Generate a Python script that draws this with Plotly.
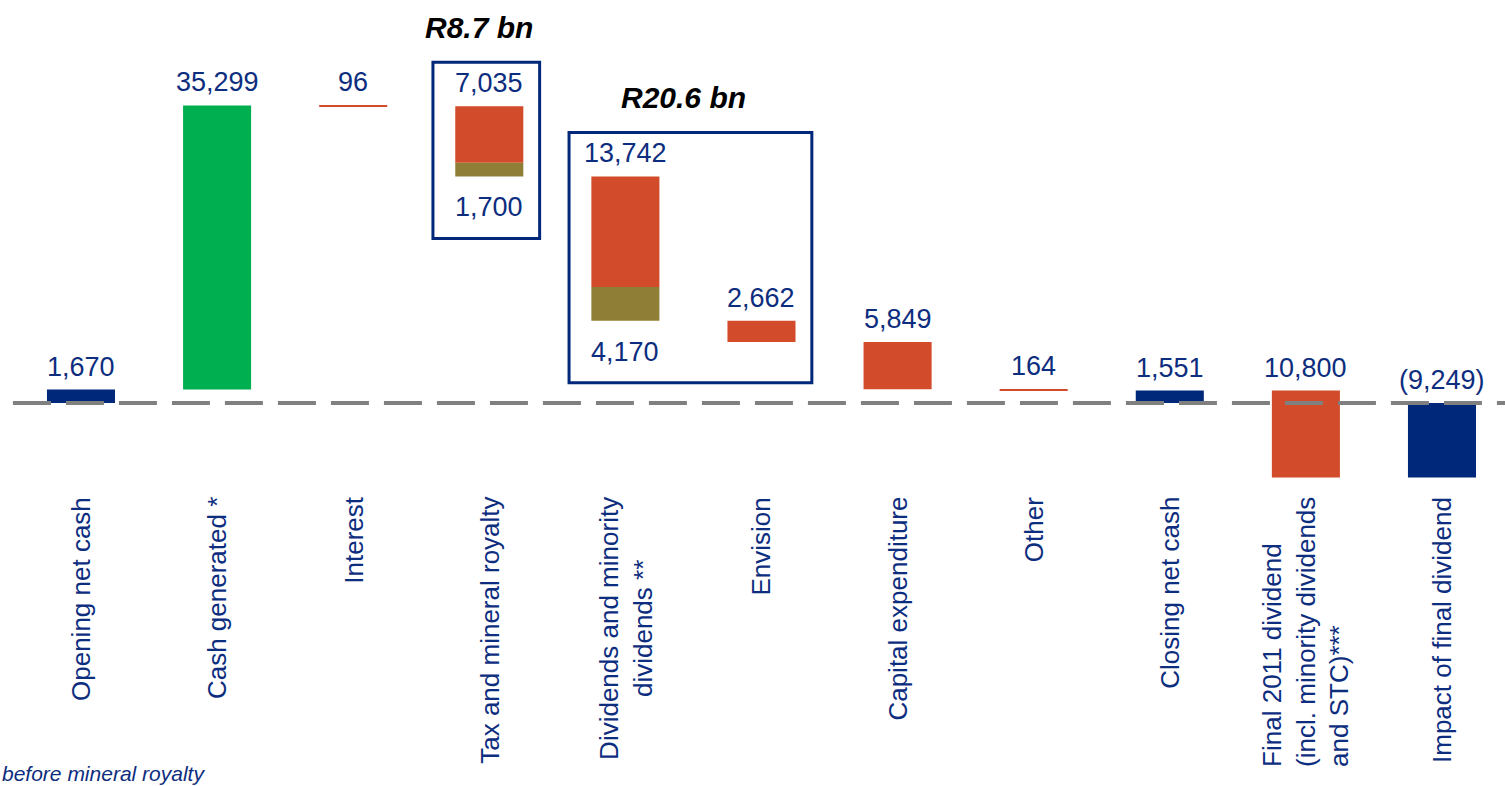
import plotly.graph_objects as go

# ---- data (R million) ----
categories = [
    "Opening net cash",
    "Cash generated *",
    "Interest",
    "Tax and mineral royalty",
    "Dividends and minority<br>dividends **",
    "Envision",
    "Capital expenditure",
    "Other",
    "Closing net cash",
    "Final 2011 dividend<br>(incl. minority dividends<br>and STC)***",
    "Impact of final dividend",
]
step_kind = ["total", "delta", "delta", "delta", "delta", "delta",
             "delta", "delta", "total", "delta", "total"]
amounts = [1670, 35299, -96, -7035, -13742, -2662, -5849, -164, 1551, -10800, -9249]
# mineral royalty / minority dividends stacked under the main outflow
secondary = [0, 0, 0, -1700, -4170, 0, 0, 0, 0, 0, 0]
label_align = ["center", "center", "center", "center", "center", "center",
               "center", "center", "center", "left", "center"]
bracket_groups = [[3], [4, 5]]
footnote = "before mineral royalty"

# ---- styling ----
W, H = 1505, 786
NAVY = "#00287a"
TEXT = "#0d2d7e"
GREEN = "#00b050"
ORANGE = "#d24b2a"
OLIVE = "#8f7f36"
GREY = "#808080"
FONT = "Liberation Sans, Arial, sans-serif"

Y_TOP, Y_BOTTOM = 50060, -47580
X_LEFT, X_RIGHT = -0.595, 10.463
UNIT_PER_PX = (Y_TOP - Y_BOTTOM) / H

# ---- build waterfall segments ----
seg_x, seg_base, seg_h, seg_col = [], [], [], []
tops, bottoms = [], []
running = 0
for i, (kind, v, extra) in enumerate(zip(step_kind, amounts, secondary)):
    if kind == "total":
        lo, hi = min(0, v), max(0, v)
        seg_x.append(i); seg_base.append(lo); seg_h.append(hi - lo); seg_col.append(NAVY)
        running = v
        tops.append(hi); bottoms.append(lo)
    else:
        start = running
        running += v
        seg_x.append(i); seg_base.append(min(start, running)); seg_h.append(abs(v))
        seg_col.append(GREEN if v > 0 else ORANGE)
        top = max(start, running)
        if extra:
            s2 = running
            running += extra
            seg_x.append(i); seg_base.append(min(s2, running)); seg_h.append(abs(extra))
            seg_col.append(OLIVE)
        tops.append(top); bottoms.append(min(start, running))

fig = go.Figure()
fig.add_trace(go.Bar(
    x=seg_x, y=seg_h, base=seg_base, width=0.5,
    marker=dict(color=seg_col, line=dict(width=0)),
    hoverinfo="skip", showlegend=False,
))

annotations = []


def fmt(v, kind):
    if kind == "total" and v < 0:
        return f"({-v:,})"
    return f"{abs(v):,}"


# value labels
for i, (kind, v, extra) in enumerate(zip(step_kind, amounts, secondary)):
    annotations.append(dict(
        x=i, y=tops[i], xref="x", yref="y", text=fmt(v, kind),
        showarrow=False, yanchor="bottom", yshift=6,
        font=dict(family=FONT, size=27, color=TEXT),
    ))
    if extra:
        annotations.append(dict(
            x=i, y=bottoms[i], xref="x", yref="y", text=f"{abs(extra):,}",
            showarrow=False, yanchor="top", yshift=-14,
            font=dict(family=FONT, size=27, color=TEXT),
        ))

# category labels (rotated)
for i, (name, al) in enumerate(zip(categories, label_align)):
    annotations.append(dict(
        x=i, y=1 - 495 / H, xref="x", yref="paper", text=name,
        showarrow=False, textangle=-90, yanchor="top", xanchor="center",
        align=al, font=dict(family=FONT, size=26, color=TEXT),
    ))

shapes = []
# brackets around grouped outflows, titled with their total in R bn
for grp in bracket_groups:
    x0 = min(grp) - 0.414
    x1 = max(grp) + 0.37
    y1 = max(tops[g] for g in grp) + 44 * UNIT_PER_PX
    y0 = min(bottoms[g] - (62 if secondary[g] else 20) * UNIT_PER_PX for g in grp)
    shapes.append(dict(type="rect", xref="x", yref="y", x0=x0, x1=x1, y0=y0, y1=y1,
                       line=dict(color=NAVY, width=3), fillcolor="rgba(0,0,0,0)",
                       layer="above"))
    total_bn = sum(abs(amounts[g]) + abs(secondary[g]) for g in grp) / 1000
    annotations.append(dict(
        x=(x0 + x1) / 2, y=y1, xref="x", yref="y", text=f"<b><i>R{total_bn:.1f} bn</i></b>",
        showarrow=False, yanchor="bottom", yshift=16, xshift=-7,
        font=dict(family=FONT, size=30, color="#000000"),
    ))

# zero line
shapes.append(dict(type="line", xref="x", yref="y", x0=-0.5, x1=X_RIGHT, y0=0, y1=0,
                   line=dict(color=GREY, width=4, dash="38px,15px"), layer="above"))

annotations.append(dict(
    x=0, y=1 - 773 / H, xref="paper", yref="paper", text=f"<i>{footnote}</i>",
    showarrow=False, xanchor="left", yanchor="middle",
    font=dict(family=FONT, size=21, color=TEXT),
))

fig.update_layout(
    width=W, height=H,
    margin=dict(l=0, r=0, t=0, b=0),
    paper_bgcolor="white", plot_bgcolor="white",
    barmode="overlay",
    xaxis=dict(range=[X_LEFT, X_RIGHT], visible=False, fixedrange=True),
    yaxis=dict(range=[Y_BOTTOM, Y_TOP], visible=False, fixedrange=True),
    shapes=shapes, annotations=annotations,
    showlegend=False,
)

fig.write_html("out.html", config={"displayModeBar": False})
